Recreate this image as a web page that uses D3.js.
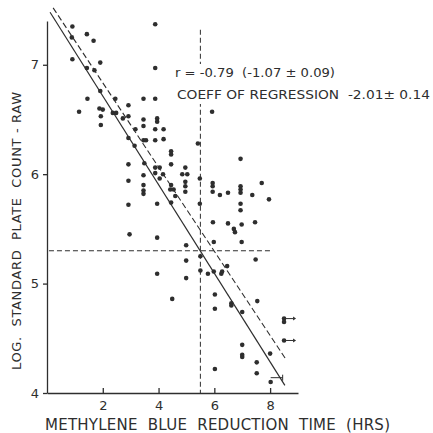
<!DOCTYPE html>
<html>
<head>
<meta charset="utf-8">
<script src="https://cdn.jsdelivr.net/npm/d3@7"></script>
<style>
    body { margin: 0; background: #fff; }
    #chart-area { width: 433px; height: 433px; }
    text { font-family: "DejaVu Sans", sans-serif; fill: #2e2e2e; }
</style>
</head>
<body>
<div id="chart-area"></div>
<script>

// methylene blue reduction time (hrs) for each sample
let mbrtHours = [
    0.91, 0.89, 1.43, 1.67, 3.88, 0.91, 1.91, 1.43, 1.70, 3.88,
    1.91, 2.45, 3.46, 3.88, 1.45, 1.15, 1.88, 2.00, 1.93, 2.36,
    2.48, 1.93, 2.92, 2.92, 2.72, 3.46, 3.95, 3.95, 3.46, 3.88,
    4.18, 3.17, 2.92, 3.46, 3.55, 3.88, 4.18, 3.14, 5.41, 5.92,
    4.45, 4.45, 4.45, 2.92, 3.49, 3.88, 4.04, 3.88, 4.16, 4.04,
    3.46, 2.92, 3.46, 3.46, 3.46, 4.45, 4.42, 4.54, 4.96, 4.85,
    5.03, 4.96, 4.96, 4.96, 5.48, 4.60, 4.45, 2.92, 3.95, 5.48,
    5.94, 5.94, 5.94, 6.20, 6.94, 6.49, 6.94, 6.94, 6.94, 7.36,
    7.70, 7.96, 6.94, 6.94, 2.96, 3.95, 4.99, 5.95, 5.98, 4.99,
    5.50, 3.95, 4.99, 5.50, 5.77, 5.98, 4.49, 6.02, 6.02, 6.02,
    6.49, 6.70, 6.74, 6.98, 7.46, 6.98, 7.48, 6.25, 6.28, 6.46,
    6.61, 6.61, 7.00, 7.54, 7.00, 7.00, 7.00, 8.00, 7.52, 7.52,
    8.02
];

// log. standard plate count (raw milk)
let logCounts = [
    7.35, 7.25, 7.28, 7.22, 7.37, 7.05, 7.02, 6.97, 6.95, 6.97,
    6.76, 6.69, 6.69, 6.69, 6.69, 6.57, 6.60, 6.59, 6.53, 6.56,
    6.56, 6.45, 6.63, 6.53, 6.51, 6.50, 6.51, 6.48, 6.44, 6.41,
    6.41, 6.41, 6.33, 6.31, 6.31, 6.31, 6.32, 6.26, 6.28, 6.57,
    6.21, 6.18, 6.09, 6.09, 6.10, 6.06, 6.06, 6.01, 6.00, 5.96,
    5.99, 5.94, 5.90, 5.85, 5.82, 5.90, 5.86, 5.86, 6.06, 6.00,
    6.00, 5.93, 5.89, 5.84, 5.96, 5.80, 5.74, 5.72, 5.73, 5.73,
    5.92, 5.89, 5.84, 5.81, 6.14, 5.83, 5.89, 5.86, 5.83, 5.81,
    5.92, 5.77, 5.73, 5.67, 5.45, 5.42, 5.35, 5.56, 5.38, 5.21,
    5.25, 5.09, 5.05, 5.12, 5.09, 5.11, 4.86, 4.90, 4.77, 4.22,
    5.55, 5.50, 5.47, 5.54, 5.56, 5.38, 5.22, 5.09, 5.11, 5.16,
    4.82, 4.80, 4.74, 4.84, 4.44, 4.35, 4.33, 4.36, 4.28, 4.18,
    4.10
];

// samples not reduced by the end of the test (drawn with an arrow)
let openHours = [8.50, 8.50, 8.50];
let openCounts = [4.68, 4.65, 4.48];

// one sample with a range bar
let rangeHours = [8.02, 8.45];
let rangeCount = 4.14;

// regression lines (end points)
let fitHours = [0.11, 8.53];
let fitCounts = [7.48, 4.07];
let fitDashHours = [0.22, 8.56];
let fitDashCounts = [7.52, 4.31];

// mean guides
let meanHours = 5.5;
let meanCount = 5.3;
let guideHours = [0.07, 8.1];
let guideCounts = [4, 7.32];

// axes
let xTicks = [2, 4, 6, 8];
let yTicks = [4, 5, 6, 7];
let xDomain = [0, 9];
let yDomain = [4, 7.4];

let statLines = ["r = -0.79  (-1.07 \u00b1 0.09)", "COEFF OF REGRESSION  -2.01\u00b1 0.14"];


let margin = { top: 21, right: 135, bottom: 40, left: 47 };
let width = 433 - margin.left - margin.right,
    height = 433 - margin.top - margin.bottom;

let ink = "#2e2e2e";

let svg = d3.select("#chart-area").append("svg")
    .attr("width", 433)
    .attr("height", 433)
    .append("g")
    .attr("transform", "translate(" + margin.left + "," + margin.top + ")");

let x = d3.scaleLinear().domain(xDomain).range([0, width]);
let y = d3.scaleLinear().domain(yDomain).range([height, 0]);

// Axes
let xAxis = svg.append("g")
    .attr("transform", "translate(0," + height + ")")
    .call(d3.axisBottom(x).tickValues(xTicks).tickFormat(d3.format("d"))
        .tickSizeInner(-5).tickSizeOuter(0).tickPadding(8));

let yAxis = svg.append("g")
    .call(d3.axisLeft(y).tickValues(yTicks).tickFormat(d3.format("d"))
        .tickSizeInner(4).tickSizeOuter(0).tickPadding(4));

[xAxis, yAxis].forEach(a => {
    a.selectAll("path, line").attr("stroke", ink).attr("stroke-width", 1.3);
    a.selectAll("text").style("font-size", "13px").attr("fill", ink);
});

// Mean guides
svg.append("line")
    .attr("x1", x(guideHours[0])).attr("x2", x(guideHours[1]))
    .attr("y1", y(meanCount)).attr("y2", y(meanCount))
    .attr("stroke", ink).attr("stroke-width", 1)
    .attr("stroke-dasharray", "5,3");

svg.append("line")
    .attr("x1", x(meanHours)).attr("x2", x(meanHours))
    .attr("y1", y(guideCounts[1])).attr("y2", y(guideCounts[0]))
    .attr("stroke", ink).attr("stroke-width", 1)
    .attr("stroke-dasharray", "5,3");

// Regression lines
svg.append("line")
    .attr("x1", x(fitHours[0])).attr("y1", y(fitCounts[0]))
    .attr("x2", x(fitHours[1])).attr("y2", y(fitCounts[1]))
    .attr("stroke", ink).attr("stroke-width", 1.2);

svg.append("line")
    .attr("x1", x(fitDashHours[0])).attr("y1", y(fitDashCounts[0]))
    .attr("x2", x(fitDashHours[1])).attr("y2", y(fitDashCounts[1]))
    .attr("stroke", ink).attr("stroke-width", 1.1)
    .attr("stroke-dasharray", "6,3");

// Points
let points = mbrtHours.map((h, i) => ({ h: h, c: logCounts[i] }));

svg.selectAll(".dot")
    .data(points)
    .enter()
    .append("circle")
    .attr("class", "dot")
    .attr("cx", d => x(d.h))
    .attr("cy", d => y(d.c))
    .attr("r", 2.3)
    .attr("fill", ink);

// Samples with arrows
let open = openHours.map((h, i) => ({ h: h, c: openCounts[i] }));

svg.selectAll(".open-dot")
    .data(open)
    .enter()
    .append("circle")
    .attr("class", "open-dot")
    .attr("cx", d => x(d.h))
    .attr("cy", d => y(d.c))
    .attr("r", 2.3)
    .attr("fill", ink);

let arrows = svg.selectAll(".arrow")
    .data(open.filter((d, i) => i !== 1))
    .enter()
    .append("g")
    .attr("class", "arrow")
    .attr("transform", d => "translate(" + x(d.h) + "," + y(d.c) + ")");

arrows.append("line")
    .attr("x1", 2).attr("x2", 9)
    .attr("stroke", ink).attr("stroke-width", 1);
arrows.append("path")
    .attr("d", "M9,-2L12,0L9,2Z")
    .attr("fill", ink);

// Range bar
svg.append("line")
    .attr("x1", x(rangeHours[0])).attr("x2", x(rangeHours[1]))
    .attr("y1", y(rangeCount)).attr("y2", y(rangeCount))
    .attr("stroke", ink).attr("stroke-width", 1);
svg.append("line")
    .attr("x1", x(rangeHours[1])).attr("x2", x(rangeHours[1]))
    .attr("y1", y(rangeCount) - 3).attr("y2", y(rangeCount) + 3)
    .attr("stroke", ink).attr("stroke-width", 1);

// Statistics text (the vertical guide stops behind it)
let statWidths = [160, 253];
let statG = svg.append("g")
    .attr("transform", "translate(" + (175 - margin.left) + "," + (77 - margin.top) + ")");

statG.append("rect")
    .attr("x", -3).attr("y", -13)
    .attr("width", 260).attr("height", 40)
    .attr("fill", "#fff");

statG.selectAll("text")
    .data(statLines)
    .enter()
    .append("text")
    .attr("x", (d, i) => i * 2)
    .attr("y", (d, i) => i * 22)
    .attr("textLength", (d, i) => statWidths[i])
    .attr("lengthAdjust", "spacingAndGlyphs")
    .style("font-size", "12.5px")
    .text(d => d.replace(/ /g, "\u00a0"));

// Axis titles
svg.append("text")
    .attr("x", 45 - margin.left)
    .attr("y", height + 37)
    .attr("textLength", 345)
    .attr("lengthAdjust", "spacing")
    .style("font-size", "15px")
    .text("METHYLENE\u00a0\u00a0BLUE\u00a0\u00a0REDUCTION\u00a0\u00a0TIME\u00a0\u00a0(HRS)");

svg.append("text")
    .attr("transform", "translate(" + (21 - margin.left) + "," + (370 - margin.top) + ") rotate(-90)")
    .attr("textLength", 278)
    .attr("lengthAdjust", "spacing")
    .style("font-size", "13px")
    .text("LOG.\u00a0\u00a0STANDARD\u00a0\u00a0PLATE\u00a0\u00a0COUNT\u00a0-\u00a0RAW");

</script>
</body>
</html>
